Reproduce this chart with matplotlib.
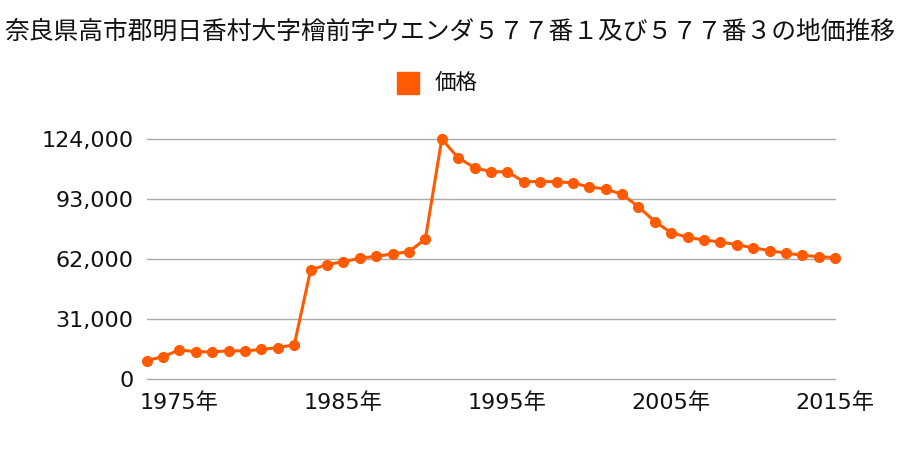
import matplotlib
matplotlib.use("Agg")
import matplotlib.pyplot as plt
from matplotlib.ticker import FuncFormatter

plt.rcParams['font.family'] = ['Noto Sans CJK JP', 'DejaVu Sans']

title = "奈良県高市郡明日香村大字檜前字ウエンダ５７７番１及び５７７番３の地価推移"
series_name = "価格"
years = list(range(1973, 2016))
prices = [9500, 11500, 15000, 14000, 14000, 14500, 14500, 15200, 16200, 17600,
          56300, 59100, 60600, 62400, 63400, 64600, 65800, 72300, 124000,
          114300, 109200, 107100, 107100, 102000, 102000, 102000, 101300,
          99200, 98200, 95400, 89000, 81300, 75600, 73200, 71800, 70800,
          69400, 67800, 66300, 65000, 63900, 63200, 62700]
yticks = [0, 31000, 62000, 93000, 124000]
xticks = [1975, 1985, 1995, 2005, 2015]
color = "#ff5a00"

fig = plt.figure(figsize=(9, 4.5), dpi=100)
ax = fig.add_axes([0.163, 0.158, 0.765, 0.533])

ax.plot(years, prices, color=color, lw=2.2, marker='o', ms=7, clip_on=False, zorder=3)

ax.set_xlim(1973, 2015)
ax.set_ylim(0, 124000)
ax.set_yticks(yticks)
ax.set_xticks(xticks)
ax.set_xticklabels([f"{y}年" for y in xticks])
ax.yaxis.set_major_formatter(FuncFormatter(lambda v, p: f"{int(v):,}"))
ax.tick_params(length=0, labelsize=16, colors='#111111', pad=9.5)
for lab in ax.get_xticklabels() + ax.get_yticklabels():
    lab.set_family(['DejaVu Sans', 'Noto Sans CJK JP'])
ax.grid(axis='y', color='#aaaaaa', lw=1)
for gl in ax.get_ygridlines():
    gl.set_clip_on(False)
for s in ax.spines.values():
    s.set_visible(False)

fig.text(0.5, 1 - 32 / 450, title, ha='center', va='center', fontsize=17.8, color='#111111')
fig.patches.append(plt.Rectangle((397 / 900, 1 - 94 / 450), 22 / 900, 22 / 450,
                                 transform=fig.transFigure, color=color))
fig.text(435 / 900, 1 - 83 / 450, series_name, ha='left', va='center', fontsize=15.5, color='#111111')

fig.savefig("out.png", dpi=100)
